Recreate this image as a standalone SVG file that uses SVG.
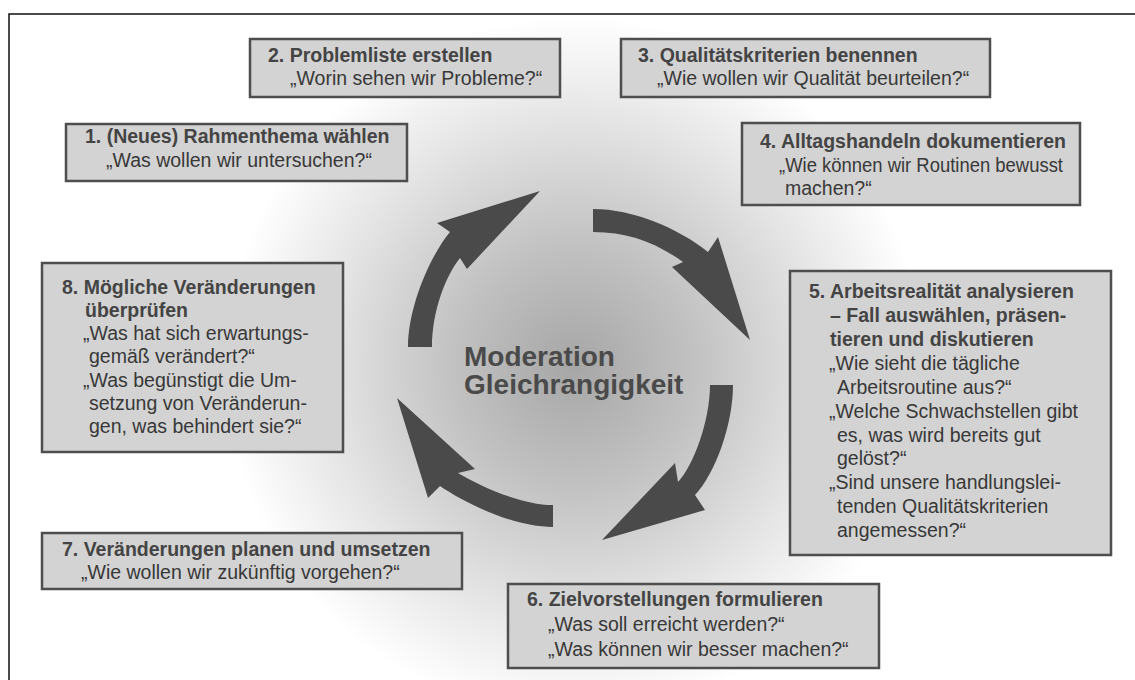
<svg xmlns="http://www.w3.org/2000/svg" width="1135" height="680" viewBox="0 0 1135 680">
  <defs>
    <radialGradient id="glow" cx="574" cy="366" r="350" gradientUnits="userSpaceOnUse">
      <stop offset="0" stop-color="#a6a6a6"/>
      <stop offset="0.35" stop-color="#c2c2c2"/>
      <stop offset="0.7" stop-color="#e4e4e4"/>
      <stop offset="1" stop-color="#ffffff"/>
    </radialGradient>
    <style>
      .box { fill: #d3d3d3; stroke: #4e4e4e; stroke-width: 2.5; }
      .t { font-family: "Liberation Sans", Arial, sans-serif; font-size: 19.5px; fill: #383838; }
      .b { font-weight: bold; fill: #444444; }
      .center { font-family: "Liberation Sans", Arial, sans-serif; font-size: 28px; font-weight: bold; fill: #4a4a4a; }
      .arrow { fill: #4a4a4a; }
    </style>
  </defs>

  <!-- page background and soft central glow -->
  <rect x="0" y="0" width="1135" height="680" fill="#ffffff"/>
  <rect x="9" y="14" width="1126" height="666" fill="url(#glow)"/>

  <!-- frame -->
  <path d="M9,680 L9,14 L1135,14" fill="none" stroke="#111111" stroke-width="1.5"/>

  <!-- cycle arrows -->
  <g id="connectors">
    <path class="arrow" d="M408,347 C408,307 430,256 450,232 L437,223 L540,191 L467,269 L460,258 C445,277 432,312 432,347 Z"/>
    <path class="arrow" d="M593,209 C633,209 678,228 708,252 L718,237 L750,340 L672,267 L683,262 C655,242 628,232 593,232 Z"/>
    <path class="arrow" d="M733,385 C733,425 715,474 695,495 L705,510 L602,540 L675,463 L678,482 C694,465 710,420 710,385 Z"/>
    <path class="arrow" d="M553,527 C513,527 465,503 440,486 L428,498 L397,398 L475,469 L458,473 C478,485 520,505 553,505 Z"/>
  </g>

  <!-- centre label -->
  <g id="center">
    <text class="center" x="464" y="366">Moderation</text>
    <text class="center" x="464" y="394">Gleichrangigkeit</text>
  </g>

  <g id="step1">
    <rect class="box" x="66" y="124" width="341" height="57"/>
    <text class="t b" x="85" y="143">1. (Neues) Rahmenthema wählen</text>
    <text class="t" x="106" y="167">„Was wollen wir untersuchen?“</text>
  </g>

  <g id="step2">
    <rect class="box" x="250" y="39" width="310" height="58"/>
    <text class="t b" x="268" y="62">2. Problemliste erstellen</text>
    <text class="t" x="290" y="85">„Worin sehen wir Probleme?“</text>
  </g>

  <g id="step3">
    <rect class="box" x="621" y="39" width="369" height="58"/>
    <text class="t b" x="638" y="62">3. Qualitätskriterien benennen</text>
    <text class="t" x="657" y="85">„Wie wollen wir Qualität beurteilen?“</text>
  </g>

  <g id="step4">
    <rect class="box" x="742" y="123" width="338" height="82"/>
    <text class="t b" x="760" y="148">4. Alltagshandeln dokumentieren</text>
    <text class="t" x="779" y="172" textLength="284" lengthAdjust="spacingAndGlyphs">„Wie können wir Routinen bewusst</text>
    <text class="t" x="785" y="195">machen?“</text>
  </g>

  <g id="step5">
    <rect class="box" x="790" y="271" width="321" height="284"/>
    <text class="t b" x="809" y="298">5. Arbeitsrealität analysieren</text>
    <text class="t b" x="830" y="322">– Fall auswählen, präsen-</text>
    <text class="t b" x="830" y="346">tieren und diskutieren</text>
    <text class="t" x="829" y="370">„Wie sieht die tägliche</text>
    <text class="t" x="837" y="394">Arbeitsroutine aus?“</text>
    <text class="t" x="829" y="418">„Welche Schwachstellen gibt</text>
    <text class="t" x="837" y="442">es, was wird bereits gut</text>
    <text class="t" x="837" y="465">gelöst?“</text>
    <text class="t" x="829" y="489">„Sind unsere handlungslei-</text>
    <text class="t" x="837" y="513">tenden Qualitätskriterien</text>
    <text class="t" x="837" y="537">angemessen?“</text>
  </g>

  <g id="step6">
    <rect class="box" x="508" y="584" width="371" height="84"/>
    <text class="t b" x="527" y="606">6. Zielvorstellungen formulieren</text>
    <text class="t" x="548" y="631">„Was soll erreicht werden?“</text>
    <text class="t" x="548" y="656">„Was können wir besser machen?“</text>
  </g>

  <g id="step7">
    <rect class="box" x="42" y="533" width="420" height="56"/>
    <text class="t b" x="62" y="556">7. Veränderungen planen und umsetzen</text>
    <text class="t" x="81" y="579">„Wie wollen wir zukünftig vorgehen?“</text>
  </g>

  <g id="step8">
    <rect class="box" x="42" y="263" width="301" height="189"/>
    <text class="t b" x="62" y="294">8. Mögliche Veränderungen</text>
    <text class="t b" x="85" y="317">überprüfen</text>
    <text class="t" x="83" y="340">„Was hat sich erwartungs-</text>
    <text class="t" x="89" y="363">gemäß verändert?“</text>
    <text class="t" x="83" y="387">„Was begünstigt die Um-</text>
    <text class="t" x="89" y="410">setzung von Veränderun-</text>
    <text class="t" x="89" y="433">gen, was behindert sie?“</text>
  </g>
</svg>
